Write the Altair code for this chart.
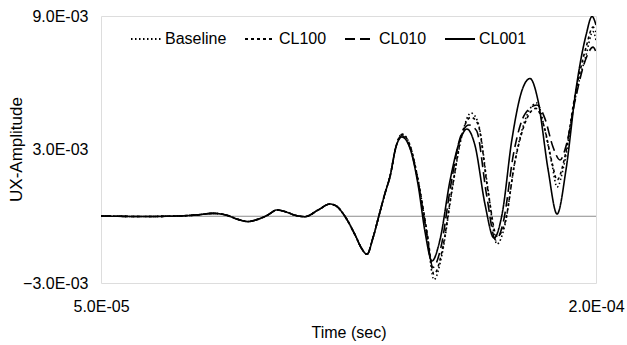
import altair as alt
import pandas as pd

# time in microseconds, amplitude in units of 1e-3
early_t = [50, 55, 60, 65, 70, 75, 79, 83.9, 88, 91.5, 94.5, 97.5, 100.5, 103.3, 106, 108.5,
           111.8, 115.8, 119.4, 121.4, 123.9, 127.0, 129.0, 130.6, 132.4, 134.2, 136.0, 137.6, 139.4]
early_v = [0.01, 0.0, -0.01, -0.01, 0.0, 0.02, 0.06, 0.13, 0.05, -0.14, -0.24, -0.14, 0.05, 0.28,
           0.20, 0.06, -0.02, 0.28, 0.55, 0.45, 0.0, -0.84, -1.45, -1.71, -0.98, 0.01, 1.00, 1.80, 3.13]

baseline_t = [141.2, 143.6, 146.1, 148.8, 150.9, 153.3, 156.4, 159.4, 162.1, 164.2, 167.3, 170.0,
              172.4, 175.5, 179.1, 182.1, 184.5, 186.7, 188.2, 190.3, 193.6, 197.0, 199.1, 200.0]
baseline_v = [3.70, 3.20, 1.63, -0.84, -2.85, -1.74, 1.18, 3.65, 4.64, 4.24, 1.18, -1.25,
              -0.39, 2.53, 4.55, 5.09, 3.88, 2.30, 1.31, 2.30, 5.22, 7.25, 8.30, 7.92]

cl100_t = [141.2, 143.6, 146.1, 148.8, 150.9, 153.3, 156.4, 159.4, 162.1, 164.2, 167.3, 170.0,
           172.4, 175.5, 179.1, 181.8, 184.5, 186.7, 188.2, 190.3, 193.6, 197.0, 199.1, 200.0]
cl100_v = [3.68, 3.20, 1.60, -0.70, -2.60, -1.60, 1.25, 3.70, 4.45, 4.15, 1.10, -0.90,
           -0.30, 2.50, 4.40, 4.85, 3.90, 2.40, 1.63, 2.50, 5.40, 7.60, 8.50, 8.28]

cl010_t = [141.2, 143.6, 146.1, 148.5, 150.6, 153.0, 156.0, 159.0, 161.5, 163.8, 166.8, 169.6,
           172.0, 175.0, 178.5, 182.1, 184.5, 187.0, 189.1, 191.0, 193.8, 197.0, 199.1, 200.0]
cl010_v = [3.62, 3.10, 1.55, -0.60, -2.30, -1.40, 1.40, 3.60, 4.10, 3.85, 1.00, -1.07,
           -0.20, 2.80, 4.60, 5.00, 4.40, 3.10, 2.53, 3.20, 5.30, 7.10, 7.60, 7.38]

cl001_t = [141.2, 143.6, 146.1, 148.2, 150.3, 152.7, 155.8, 158.8, 160.9, 163.3, 166.4, 169.1,
           171.5, 174.5, 177.6, 180.0, 182.4, 185.5, 188.2, 190.9, 193.9, 197.0, 198.8, 200.0]
cl001_v = [3.56, 3.07, 1.40, -0.71, -2.01, -1.07, 1.63, 3.43, 3.92, 3.20, 0.51, -0.98,
           0.06, 3.43, 5.67, 6.19, 5.22, 2.08, 0.10, 2.08, 5.67, 8.15, 8.98, 8.60]

series_names = ["Baseline", "CL100", "CL010", "CL001"]
late = {
    "Baseline": (baseline_t, baseline_v),
    "CL100": (cl100_t, cl100_v),
    "CL010": (cl010_t, cl010_v),
    "CL001": (cl001_t, cl001_v),
}

rows = []
for name in series_names:
    ts = early_t + late[name][0]
    vs = early_v + late[name][1]
    for t, v in zip(ts, vs):
        rows.append({"series": name, "time": t * 1e-6, "amp": v * 1e-3})
df = pd.DataFrame(rows)

x_ticks = [5e-5, 2e-4]
y_ticks = [-3e-3, 3e-3, 9e-3]
label_expr = "replace(upper(format(datum.value, '.1e')), 'E-', 'E-0')"
FONT = "Liberation Sans"

x = alt.X("time:Q", scale=alt.Scale(domain=[5e-5, 2e-4], nice=False, zero=False),
          axis=alt.Axis(title="Time (sec)", values=x_ticks, labelExpr=label_expr,
                        grid=False, domain=False, ticks=False, labelPadding=15,
                        labelFlush=False, titlePadding=10, labelFontSize=16,
                        titleFontSize=16, titleFontWeight="normal"))
y = alt.Y("amp:Q", scale=alt.Scale(domain=[-3e-3, 9e-3], nice=False, zero=False),
          axis=alt.Axis(title="UX-Amplitude", values=y_ticks, labelExpr=label_expr,
                        grid=False, domain=False, ticks=False, labelPadding=13,
                        labelFlush=False, titleX=-85, titleY=133, titleAngle=270,
                        titleAlign="center", titleBaseline="middle", labelFontSize=16,
                        titleFontSize=17, titleFontWeight="normal"))

zero = alt.Chart(pd.DataFrame({"z": [0.0]})).mark_rule(color="#8c8c8c", strokeWidth=1).encode(
    y=alt.Y("z:Q", scale=alt.Scale(domain=[-3e-3, 9e-3], nice=False, zero=False))
)

lines = alt.Chart(df).mark_line(color="black", strokeWidth=1.6, interpolate="monotone", clip=True).encode(
    x=x,
    y=y,
    strokeDash=alt.StrokeDash(
        "series:N",
        scale=alt.Scale(domain=series_names,
                        range=[[1.5, 2.5], [3, 3], [10, 5], [1, 0]]),
        legend=alt.Legend(title=None, orient="none", direction="horizontal",
                          legendX=29, legendY=7, symbolType="stroke",
                          symbolSize=900, symbolStrokeWidth=1.8,
                          symbolStrokeColor="black", labelFontSize=16,
                          labelOffset=3, columnPadding=14, labelFont=FONT),
    ),
    detail="series:N",
)

chart = alt.layer(zero, lines).properties(
    width=495, height=267,
    autosize=alt.AutoSizeParams(type="none"),
    padding={"left": 101, "top": 16, "right": 31, "bottom": 62},
).configure_view(stroke="#8c8c8c", strokeWidth=1).configure_axis(
    labelFont=FONT, titleFont=FONT, labelColor="black", titleColor="black"
).configure(font=FONT, background="white")

chart.save("out.html", embed_options={"renderer": "svg", "actions": False})
